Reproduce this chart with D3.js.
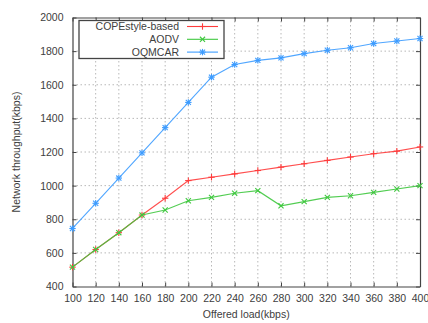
<!DOCTYPE html>
<html>
<head>
<meta charset="utf-8">
<script src="https://cdn.jsdelivr.net/npm/d3@7"></script>
<style>
  html, body { margin: 0; padding: 0; background: #fff; }
  svg { display: block; font-family: "Liberation Sans", Arial, sans-serif; }
</style>
</head>
<body>
<svg id="chart" width="428" height="323"></svg>
<script>
// Offered load (kbps) on the x axis
const loads = [100, 120, 140, 160, 180, 200, 220, 240, 260, 280, 300, 320, 340, 360, 380, 400];
// Network throughput (kbps) per scheme
const copeValues   = [515, 620, 720, 825, 925, 1030, 1050, 1070, 1090, 1110, 1130, 1150, 1170, 1190, 1205, 1230];
const aodvValues   = [515, 620, 720, 825, 855, 910, 930, 955, 970, 880, 905, 930, 940, 960, 980, 1000];
const oqmcarValues = [745, 895, 1045, 1195, 1345, 1495, 1645, 1720, 1745, 1760, 1785, 1805, 1820, 1845, 1860, 1875];
const seriesNames  = ["COPEstyle-based", "AODV", "OQMCAR"];
const xTicks = [100, 120, 140, 160, 180, 200, 220, 240, 260, 280, 300, 320, 340, 360, 380, 400];
const yTicks = [400, 600, 800, 1000, 1200, 1400, 1600, 1800, 2000];

const series = [
  { name: seriesNames[0], values: copeValues,   color: "#ff3b3b", marker: "plus" },
  { name: seriesNames[1], values: aodvValues,   color: "#3fc83f", marker: "cross" },
  { name: seriesNames[2], values: oqmcarValues, color: "#3d9cff", marker: "star" }
];

const svg = d3.select("#chart");
const margin = { left: 72.5, right: 8, top: 17.5, bottom: 36.5 };
const W = 428, H = 323;

const x = d3.scaleLinear().domain([100, 400]).range([margin.left, W - margin.right]);
const y = d3.scaleLinear().domain([400, 2000]).range([H - margin.bottom, margin.top]);

const textColor = "#404040";
const frameColor = "#444";
const fmt = d3.format("d");

// dotted grid
const grid = svg.append("g");
grid.selectAll("line.gx").data(xTicks.slice(1, -1)).join("line")
  .attr("x1", d => x(d)).attr("x2", d => x(d))
  .attr("y1", y(400)).attr("y2", y(2000))
  .attr("stroke", "#b8b8b8").attr("stroke-width", 1).attr("stroke-dasharray", "1.5,2.5");
grid.selectAll("line.gy").data(yTicks.slice(1, -1)).join("line")
  .attr("x1", x(100)).attr("x2", x(400))
  .attr("y1", d => y(d)).attr("y2", d => y(d))
  .attr("stroke", "#b8b8b8").attr("stroke-width", 1).attr("stroke-dasharray", "1.5,2.5");

// axes with inward ticks
const fs = "10.5px";
const xAxis = svg.append("g").attr("transform", `translate(0,${y(400)})`)
  .call(d3.axisBottom(x).tickValues(xTicks).tickFormat(fmt).tickSizeInner(-4).tickSizeOuter(0).tickPadding(8));
const xAxisTop = svg.append("g").attr("transform", `translate(0,${y(2000)})`)
  .call(d3.axisTop(x).tickValues(xTicks).tickSizeInner(-4).tickSizeOuter(0).tickFormat(""));
const yAxis = svg.append("g").attr("transform", `translate(${x(100)},0)`)
  .call(d3.axisLeft(y).tickValues(yTicks).tickFormat(fmt).tickSizeInner(-4).tickSizeOuter(0).tickPadding(9));
const yAxisRight = svg.append("g").attr("transform", `translate(${x(400)},0)`)
  .call(d3.axisRight(y).tickValues(yTicks).tickSizeInner(-4).tickSizeOuter(0).tickFormat(""));

[xAxis, xAxisTop, yAxis, yAxisRight].forEach(g => {
  g.select(".domain").attr("stroke", frameColor).attr("stroke-width", 1.2);
  g.selectAll(".tick line").attr("stroke", frameColor);
  g.selectAll(".tick text").attr("fill", textColor).style("font-size", fs)
    .style("font-family", '"Liberation Sans", Arial, sans-serif');
});

// axis titles
svg.append("text")
  .attr("x", (x(100) + x(400)) / 2).attr("y", 318)
  .attr("text-anchor", "middle").attr("fill", textColor).style("font-size", fs)
  .text("Offered load(kbps)");
svg.append("text")
  .attr("transform", `translate(20,${(y(400) + y(2000)) / 2}) rotate(-90)`)
  .attr("text-anchor", "middle").attr("fill", textColor).style("font-size", fs)
  .text("Network throughput(kbps)");

// marker shapes
function drawMarker(g, kind, cx, cy, color) {
  const r = 3.2;
  const segs = [];
  if (kind === "plus" || kind === "star") {
    segs.push([cx - r, cy, cx + r, cy], [cx, cy - r, cx, cy + r]);
  }
  if (kind === "cross" || kind === "star") {
    const d = r * 0.8;
    segs.push([cx - d, cy - d, cx + d, cy + d], [cx - d, cy + d, cx + d, cy - d]);
  }
  segs.forEach(s => g.append("line")
    .attr("x1", s[0]).attr("y1", s[1]).attr("x2", s[2]).attr("y2", s[3])
    .attr("stroke", color).attr("stroke-width", 1.1));
}

const line = d3.line().x((d, i) => x(loads[i])).y(d => y(d));

series.forEach(s => {
  const g = svg.append("g");
  g.append("path").datum(s.values)
    .attr("d", line).attr("fill", "none")
    .attr("stroke", s.color).attr("stroke-width", 1.1).attr("stroke-opacity", 0.9);
  s.values.forEach((v, i) => drawMarker(g, s.marker, x(loads[i]), y(v), s.color));
});

// legend
const legend = svg.append("g");
legend.append("rect")
  .attr("x", 79).attr("y", 20.5).attr("width", 145).attr("height", 38)
  .attr("fill", "#fff").attr("stroke", frameColor).attr("stroke-width", 1.3);
series.forEach((s, i) => {
  const ly = 26.5 + i * 12.8;
  legend.append("text")
    .attr("x", 179).attr("y", ly).attr("dy", "0.36em")
    .attr("text-anchor", "end").attr("fill", textColor).style("font-size", fs)
    .text(s.name);
  legend.append("line")
    .attr("x1", 187).attr("x2", 218).attr("y1", ly).attr("y2", ly)
    .attr("stroke", s.color).attr("stroke-width", 1.1);
  drawMarker(legend, s.marker, 202.5, ly, s.color);
});
</script>
</body>
</html>
